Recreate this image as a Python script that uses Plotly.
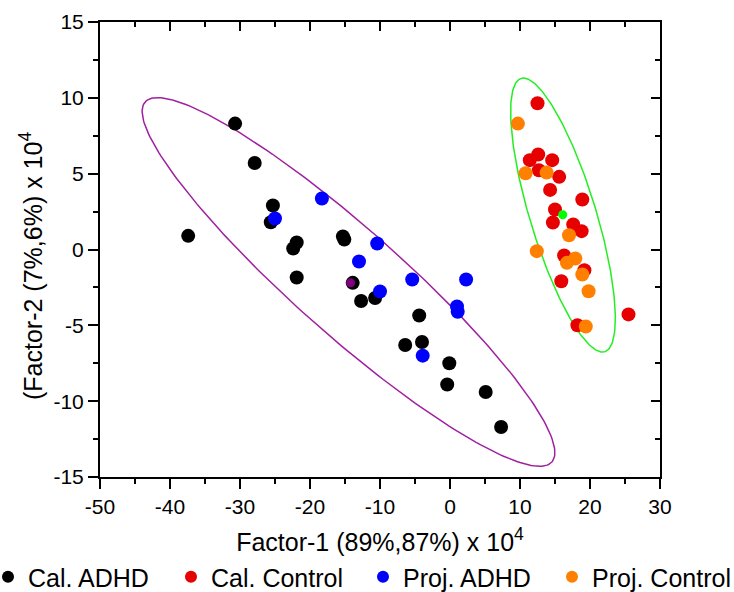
import numpy as np
import plotly.graph_objects as go

# ---- data ----
cal_adhd_x = [-30.7, -27.9, -37.4, -25.3, -25.6, -21.9, -22.4, -21.9, -15.3, -15.1,
              -13.9, -12.7, -10.7, -4.4, -6.4, -4.0, -0.1, -0.4, 5.1, 7.3]
cal_adhd_y = [8.3, 5.7, 0.9, 2.9, 1.8, 0.46, 0.07, -1.85, 0.86, 0.66,
              -2.2, -3.4, -3.2, -4.35, -6.3, -6.1, -7.5, -8.9, -9.4, -11.7]

cal_control_x = [12.5, 11.4, 12.6, 14.6, 12.7, 15.6, 14.3, 18.9, 15.0, 14.7,
                 17.6, 18.8, 16.3, 19.2, 15.9, 25.5, 18.2]
cal_control_y = [9.64, 5.89, 6.26, 5.89, 5.23, 4.79, 3.93, 3.3, 2.64, 1.78,
                 1.65, 1.21, -0.4, -1.36, -2.09, -4.28, -4.99]

proj_adhd_x = [-25.0, -18.3, -10.4, -13.0, -10.0, -5.4, 2.3, 1.0, 1.1, -3.9]
proj_adhd_y = [2.04, 3.36, 0.4, -0.79, -2.77, -1.98, -1.98, -3.76, -4.1, -7.0]

proj_control_x = [9.7, 10.8, 13.8, 17.0, 12.4, 17.9, 16.7, 18.9, 19.8, 19.4]
proj_control_y = [8.3, 5.03, 5.07, 0.94, -0.11, -0.59, -0.88, -1.65, -2.75, -5.08]

adhd_centroid = [-14.2, -2.2]
control_centroid = [16.1, 2.29]

# confidence ellipses: center, first semi-axis vector, second semi-axis vector
adhd_ellipse = dict(center=(-14.5, -2.14), u=(29.05, -11.87), v=(-5.02, -2.62))
control_ellipse = dict(center=(16.14, 2.27), u=(5.97, -9.01), v=(-4.51, -0.636))

series_names = ["Cal. ADHD", "Cal. Control", "Proj. ADHD", "Proj. Control"]
x_tick_vals = [-50, -40, -30, -20, -10, 0, 10, 20, 30]
x_tick_text = ["-50", "-40", "-30", "-20", "-10", "0", "10", "20", "30"]
y_tick_vals = [-15, -10, -5, 0, 5, 10, 15]
y_tick_text = ["-15", "-10", "-5", "0", "5", "10", "15"]
x_title = "Factor-1 (89%,87%) x 10<sup>4</sup>"
y_title = "(Factor-2 (7%,6%) x 10<sup>4</sup>"


def ellipse_xy(e, n=241):
    t = np.linspace(0, 2 * np.pi, n)
    cx, cy = e["center"]
    ux, uy = e["u"]
    vx, vy = e["v"]
    return cx + ux * np.cos(t) + vx * np.sin(t), cy + uy * np.cos(t) + vy * np.sin(t)


FONT = "Arial, Liberation Sans, sans-serif"
fig = go.Figure()

ex, ey = ellipse_xy(adhd_ellipse)
fig.add_trace(go.Scatter(x=ex, y=ey, mode="lines", line=dict(color="#a020a0", width=1.5),
                         showlegend=False, hoverinfo="skip"))
ex, ey = ellipse_xy(control_ellipse)
fig.add_trace(go.Scatter(x=ex, y=ey, mode="lines", line=dict(color="#22ee22", width=1.5),
                         showlegend=False, hoverinfo="skip"))

legend_ids = ["legend", "legend2", "legend3", "legend4"]
for name, xs, ys, col, lg in [
    (series_names[0], cal_adhd_x, cal_adhd_y, "#000000", legend_ids[0]),
    (series_names[1], cal_control_x, cal_control_y, "#e60000", legend_ids[1]),
    (series_names[2], proj_adhd_x, proj_adhd_y, "#0000ff", legend_ids[2]),
    (series_names[3], proj_control_x, proj_control_y, "#ff8000", legend_ids[3]),
]:
    fig.add_trace(go.Scatter(x=xs, y=ys, mode="markers", name=name, legend=lg,
                             marker=dict(color=col, size=14, line=dict(width=0))))

fig.add_trace(go.Scatter(x=[adhd_centroid[0]], y=[adhd_centroid[1]], mode="markers",
                         marker=dict(color="#800080", size=9), showlegend=False))
fig.add_trace(go.Scatter(x=[control_centroid[0]], y=[control_centroid[1]], mode="markers",
                         marker=dict(color="#00ff00", size=9), showlegend=False))

# empty trace to bring up the mirrored (top/right) axes
fig.add_trace(go.Scatter(x=[], y=[], xaxis="x2", yaxis="y2", showlegend=False, hoverinfo="skip"))

XR = [-50, 30]
YR = [-15, 15]
common = dict(showgrid=False, zeroline=False, showline=True, linecolor="black", linewidth=2,
              tickcolor="black", tickwidth=1.5)

W, H = 734, 592
ML, MR, MT, MB = 100, 74, 22, 115
PW, PH = W - ML - MR, H - MT - MB


def px_to_paper_x(px):
    return (px - ML) / PW


def px_to_paper_y(py):
    return (H - MB - py) / PH


legend_left_px = [-12, 171, 363, 552]
legend_mid_y = 577
legends = {}
for lg, lx in zip(legend_ids, legend_left_px):
    legends[lg] = dict(orientation="h", x=px_to_paper_x(lx), xanchor="left",
                       y=px_to_paper_y(legend_mid_y), yanchor="middle",
                       font=dict(size=25, family=FONT, color="black"), itemsizing="constant",
                       bgcolor="rgba(0,0,0,0)", borderwidth=0, itemwidth=30)

fig.update_layout(
    width=W, height=H,
    margin=dict(l=ML, r=MR, t=MT, b=MB, autoexpand=False),
    paper_bgcolor="white", plot_bgcolor="white",
    font=dict(family=FONT, color="black"),
    xaxis=dict(range=XR, tickvals=x_tick_vals, ticktext=x_tick_text, ticks="outside", ticklen=10,
               tickfont=dict(size=21, family=FONT, color="black"),
               minor=dict(ticks="outside", ticklen=5, dtick=5, tick0=0, tickcolor="black", tickwidth=1.5),
               title=dict(text=x_title, font=dict(size=25, family=FONT, color="black"), standoff=16),
               **common),
    yaxis=dict(range=YR, tickvals=y_tick_vals, ticktext=y_tick_text, ticks="outside", ticklen=10,
               tickfont=dict(size=21, family=FONT, color="black"),
               minor=dict(ticks="outside", ticklen=5, dtick=2.5, tick0=0, tickcolor="black", tickwidth=1.5),
               **common),
    xaxis2=dict(range=XR, overlaying="x", side="top", anchor="y2", dtick=10, tick0=0,
                ticks="inside", ticklen=9, showticklabels=False,
                minor=dict(ticks="inside", ticklen=5, dtick=5, tick0=0, tickcolor="black", tickwidth=1.5),
                **common),
    yaxis2=dict(range=YR, overlaying="y", side="right", anchor="x2", dtick=5, tick0=0,
                ticks="inside", ticklen=9, showticklabels=False,
                minor=dict(ticks="inside", ticklen=5, dtick=2.5, tick0=0, tickcolor="black", tickwidth=1.5),
                **common),
    annotations=[dict(text=y_title, textangle=-90, xref="paper", yref="paper",
                      x=px_to_paper_x(31), y=px_to_paper_y(266), xanchor="center", yanchor="middle",
                      showarrow=False, font=dict(size=25, family=FONT, color="black"))],
    showlegend=True,
    **legends,
)

fig.write_html("out.html", config={"displayModeBar": False},
               post_script="document.body.style.margin='0';document.body.style.overflow='hidden';")
